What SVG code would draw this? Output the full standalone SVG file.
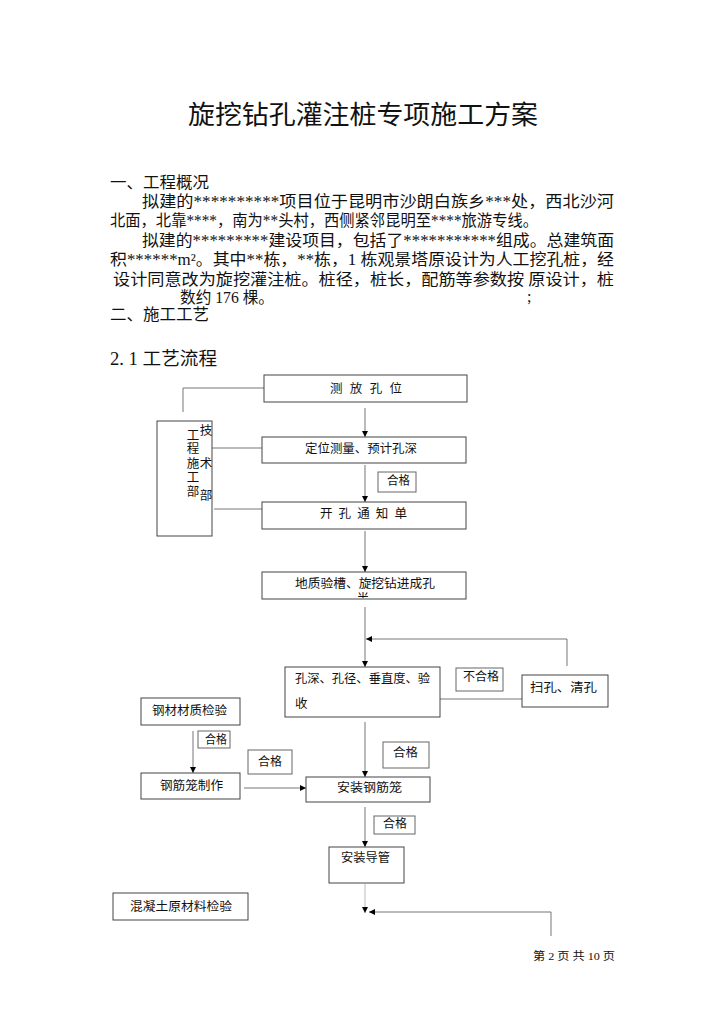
<svg xmlns="http://www.w3.org/2000/svg" width="724" height="1024" viewBox="0 0 724 1024">
<defs>
<style>
.bg{fill:#ffffff}
.t{font-family:"Liberation Serif","Noto Sans CJK SC",serif;fill:#111}
.body{font-size:16px}
.f{font-family:"Liberation Sans","Noto Sans CJK SC",sans-serif;fill:#111;font-size:12.5px}
.box{fill:#ffffff;stroke:#444;stroke-width:1}
.tag{fill:#ffffff;stroke:#666;stroke-width:1}
.ln{fill:none;stroke:#777;stroke-width:1}
.ar{fill:none;stroke:#777;stroke-width:1;marker-end:url(#ah)}
</style>
<marker id="ah" viewBox="0 0 8 8" markerUnits="userSpaceOnUse" markerWidth="6" markerHeight="6" refX="8" refY="4" orient="auto">
<path d="M0,0 L8,4 L0,8 z" fill="#000"/>
</marker>
<clipPath id="cp"><rect x="355" y="590" width="16" height="8"/></clipPath>
</defs>
<rect class="bg" x="0" y="0" width="724" height="1024"/>

<g id="text-body">
<text class="t" x="188" y="124" font-size="26" textLength="350" lengthAdjust="spacingAndGlyphs">旋挖钻孔灌注桩专项施工方案</text>
<text class="t body" x="110" y="188" textLength="99" lengthAdjust="spacingAndGlyphs">一、工程概况</text>
<text class="t body" x="142" y="207" textLength="472" lengthAdjust="spacingAndGlyphs">拟建的**********项目位于昆明市沙朗白族乡***处，西北沙河</text>
<text class="t body" x="110" y="226" textLength="428" lengthAdjust="spacingAndGlyphs">北面，北靠****，南为**头村，西侧紧邻昆明至****旅游专线。</text>
<text class="t body" x="142" y="246" textLength="472" lengthAdjust="spacingAndGlyphs">拟建的*********建设项目，包括了***********组成。总建筑面</text>
<text class="t body" x="110" y="265" textLength="504" lengthAdjust="spacingAndGlyphs">积******m²。其中**栋，**栋，1 栋观景塔原设计为人工挖孔桩，经</text>
<text class="t body" x="113" y="285" textLength="501" lengthAdjust="spacingAndGlyphs">设计同意改为旋挖灌注桩。桩径，桩长，配筋等参数按 原设计，桩</text>
<text class="t body" x="180" y="303" textLength="94" lengthAdjust="spacingAndGlyphs">数约 176 棵。</text>
<text class="t body" x="527" y="302">;</text>
<text class="t body" x="110" y="320" textLength="99" lengthAdjust="spacingAndGlyphs">二、施工工艺</text>
<text class="t" x="110" y="365" font-size="18" textLength="107" lengthAdjust="spacingAndGlyphs">2. 1 工艺流程</text>
</g>

<g id="connectors">
<polyline class="ln" points="264,388 183,388 183,412"/>
<line class="ln" x1="212" y1="448" x2="262" y2="448"/>
<line class="ln" x1="214" y1="509" x2="262" y2="509"/>
<line class="ar" x1="365" y1="408" x2="365" y2="437"/>
<line class="ar" x1="365" y1="465" x2="365" y2="502"/>
<line class="ar" x1="365" y1="531" x2="365" y2="572"/>
<line class="ar" x1="365" y1="607" x2="365" y2="667"/>
<polyline class="ar" points="567,666 567,639 366,639"/>
<line class="ln" x1="440" y1="699" x2="522" y2="699"/>
<line class="ar" x1="365" y1="722" x2="365" y2="777"/>
<line class="ar" x1="193" y1="731" x2="193" y2="773"/>
<line class="ar" x1="244" y1="788" x2="306" y2="788"/>
<line class="ar" x1="365" y1="807" x2="365" y2="847"/>
<line class="ar" x1="365" y1="884" x2="365" y2="913" style="stroke:#bbb"/>
<polyline class="ar" points="551,936 551,912 369,912"/>
</g>

<g id="node-dept">
<rect class="box" x="157" y="421" width="55" height="115"/>
<text class="f" x="193" y="440" font-size="12" text-anchor="middle">工</text>
<text class="f" x="193" y="453" font-size="12" text-anchor="middle">程</text>
<text class="f" x="193" y="468" font-size="12" text-anchor="middle">施</text>
<text class="f" x="193" y="482" font-size="12" text-anchor="middle">工</text>
<text class="f" x="193" y="496" font-size="12" text-anchor="middle">部</text>
<text class="f" x="206" y="435" font-size="13" text-anchor="middle">技</text>
<text class="f" x="206" y="468" font-size="13" text-anchor="middle">术</text>
<text class="f" x="206" y="500" font-size="13" text-anchor="middle">部</text>
</g>

<g id="node-celiang">
<rect class="box" x="264" y="375" width="203" height="27"/>
<text class="f" x="330" y="393" textLength="72" lengthAdjust="spacing">测 放 孔 位</text>
</g>

<g id="node-dingwei">
<rect class="box" x="262" y="437" width="204" height="26"/>
<text class="f" x="305" y="453" textLength="112" lengthAdjust="spacingAndGlyphs">定位测量、预计孔深</text>
</g>

<g id="tag-hege1">
<rect class="tag" x="378" y="472" width="38" height="20"/>
<text class="f" x="387" y="485" textLength="23" lengthAdjust="spacingAndGlyphs">合格</text>
</g>

<g id="node-kaikong">
<rect class="box" x="262" y="502" width="204" height="27"/>
<text class="f" x="320" y="518" textLength="87" lengthAdjust="spacing">开 孔 通 知 单</text>
</g>

<g id="node-dizhi">
<rect class="box" x="262" y="572" width="204" height="27"/>
<text class="f" x="295" y="588" textLength="140" lengthAdjust="spacingAndGlyphs">地质验槽、旋挖钻进成孔</text>
<text class="f" x="363" y="603" font-size="11" text-anchor="middle" clip-path="url(#cp)">半</text>
</g>

<g id="node-kongshen">
<rect class="box" x="285" y="667" width="155" height="50"/>
<text class="f" x="295" y="683" textLength="135" lengthAdjust="spacingAndGlyphs">孔深、孔径、垂直度、验</text>
<text class="f" x="295" y="708">收</text>
</g>

<g id="tag-buhege">
<rect class="tag" x="456" y="668" width="47" height="23"/>
<text class="f" x="463" y="681" textLength="36" lengthAdjust="spacingAndGlyphs">不合格</text>
</g>

<g id="node-saokong">
<rect class="box" x="522" y="675" width="86" height="32"/>
<text class="f" x="530" y="692" textLength="67" lengthAdjust="spacingAndGlyphs">扫孔、清孔</text>
</g>

<g id="node-gangcai">
<rect class="box" x="141" y="698" width="99" height="27"/>
<text class="f" x="152" y="715" textLength="75" lengthAdjust="spacingAndGlyphs">钢材材质检验</text>
</g>

<g id="tag-hege2">
<rect class="tag" x="198" y="731" width="32" height="17"/>
<text class="f" x="205" y="744" textLength="22" lengthAdjust="spacingAndGlyphs">合格</text>
</g>

<g id="tag-hege3">
<rect class="tag" x="248" y="750" width="44" height="24"/>
<text class="f" x="258" y="766" textLength="24" lengthAdjust="spacingAndGlyphs">合格</text>
</g>

<g id="tag-hege4">
<rect class="tag" x="383" y="742" width="46" height="26"/>
<text class="f" x="393" y="757" textLength="25" lengthAdjust="spacingAndGlyphs">合格</text>
</g>

<g id="node-jinlong">
<rect class="box" x="141" y="773" width="99" height="26"/>
<text class="f" x="160" y="790" textLength="63" lengthAdjust="spacingAndGlyphs">钢筋笼制作</text>
</g>

<g id="node-anzhuanglong">
<rect class="box" x="306" y="777" width="124" height="25"/>
<text class="f" x="337" y="792" textLength="65" lengthAdjust="spacingAndGlyphs">安装钢筋笼</text>
</g>

<g id="tag-hege5">
<rect class="tag" x="374" y="816" width="41" height="18"/>
<text class="f" x="383" y="828" textLength="24" lengthAdjust="spacingAndGlyphs">合格</text>
</g>

<g id="node-daoguan">
<rect class="box" x="329" y="847" width="75" height="36"/>
<text class="f" x="341" y="862" textLength="49" lengthAdjust="spacingAndGlyphs">安装导管</text>
</g>

<g id="node-hunningtu">
<rect class="box" x="113" y="893" width="135" height="27"/>
<text class="f" x="130" y="911" textLength="102" lengthAdjust="spacingAndGlyphs">混凝土原材料检验</text>
</g>

<g id="footer">
<text class="t" x="533" y="960" font-size="11" textLength="82" lengthAdjust="spacingAndGlyphs">第 2 页 共 10 页</text>
</g>
</svg>
